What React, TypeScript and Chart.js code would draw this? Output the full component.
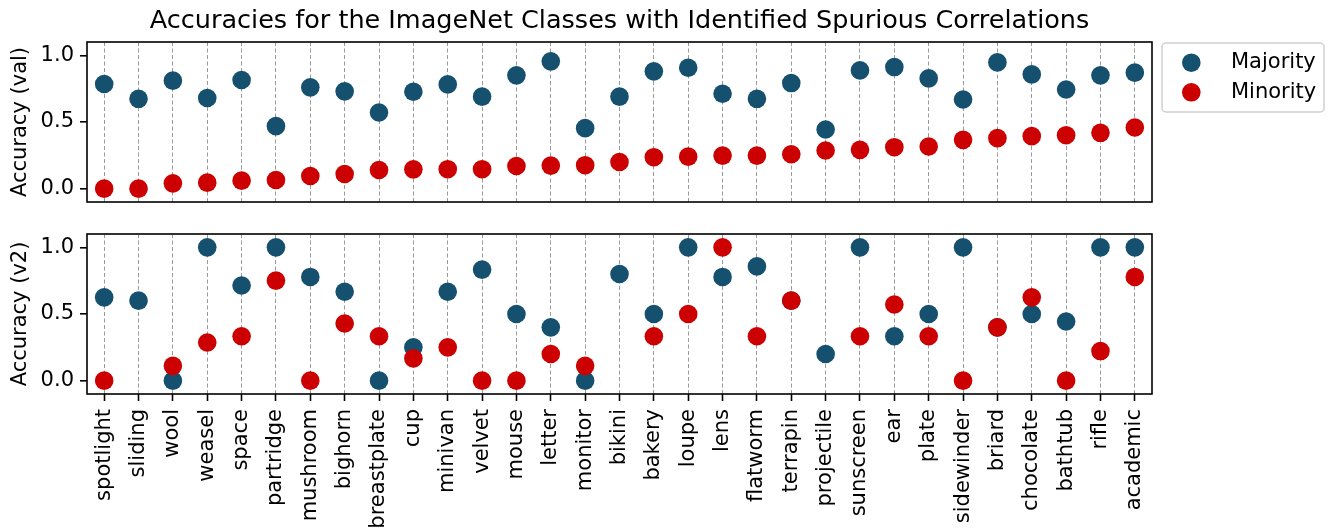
import React, { useEffect, useRef } from "react";
import { Chart, registerables } from "chart.js";

Chart.register(...registerables);

// ---------- data ----------
const categories = [
  "spotlight", "sliding", "wool", "weasel", "space", "partridge", "mushroom",
  "bighorn", "breastplate", "cup", "minivan", "velvet", "mouse", "letter",
  "monitor", "bikini", "bakery", "loupe", "lens", "flatworm", "terrapin",
  "projectile", "sunscreen", "ear", "plate", "sidewinder", "briard",
  "chocolate", "bathtub", "rifle", "academic",
];

const valMajority = [
  0.785, 0.674, 0.81, 0.68, 0.815, 0.469, 0.76, 0.73, 0.571, 0.727, 0.782,
  0.69, 0.85, 0.955, 0.454, 0.69, 0.88, 0.907, 0.712, 0.674, 0.792, 0.444,
  0.887, 0.912, 0.827, 0.669, 0.947, 0.857, 0.744, 0.85, 0.87,
];
const valMinority = [
  0.0, 0.0, 0.04, 0.045, 0.06, 0.065, 0.095, 0.11, 0.14, 0.145, 0.146, 0.146,
  0.17, 0.173, 0.176, 0.2, 0.236, 0.24, 0.248, 0.248, 0.258, 0.286, 0.291,
  0.311, 0.316, 0.366, 0.379, 0.394, 0.401, 0.419, 0.459,
];

const v2Majority = [
  0.625, 0.6, 0.0, 1.0, 0.714, 1.0, 0.778, 0.667, 0.0, 0.25, 0.667, 0.833,
  0.5, 0.4, 0.0, 0.8, 0.5, 1.0, 0.778, 0.857, 0.6, 0.2, 1.0, 0.333, 0.5, 1.0,
  0.4, 0.5, 0.444, 1.0, 1.0,
];
const v2Minority: (number | null)[] = [
  0.0, null, 0.111, 0.286, 0.333, 0.75, 0.0, 0.429, 0.333, 0.167, 0.25, 0.0,
  0.0, 0.2, 0.111, null, 0.333, 0.5, 1.0, 0.333, 0.6, null, 0.333, 0.571,
  0.333, 0.0, 0.4, 0.625, 0.0, 0.222, 0.778,
];

const yTicks = [0, 0.5, 1.0];
const seriesNames = ["Majority", "Minority"];
const seriesColors = ["#16506f", "#cc0000"];
const chartTitle =
  "Accuracies for the ImageNet Classes with Identified Spurious Correlations";
const yLabels = ["Accuracy (val)", "Accuracy (v2)"];

// ---------- styling ----------
const FONT = "'DejaVu Sans', sans-serif";
const W = 1331;
const TOP_H = 215;
const BOT_H = 313;
const PLOT_LEFT = 87;
const PLOT_RIGHT = 1152;
const GRID = "rgba(120,120,120,0.75)";
const R = 9.3;

Chart.defaults.font.family = FONT;
Chart.defaults.color = "#000";

const framePlugin = {
  id: "frame",
  afterDatasetsDraw(chart: any) {
    const { ctx, chartArea: a } = chart;
    ctx.save();
    ctx.strokeStyle = "#000";
    ctx.lineWidth = 1.6;
    ctx.strokeRect(a.left, a.top, a.right - a.left, a.bottom - a.top);
    ctx.restore();
  },
};

const titlePlugin = {
  id: "figTitle",
  afterDraw(chart: any) {
    const { ctx, chartArea: a } = chart;
    ctx.save();
    ctx.fillStyle = "#000";
    ctx.font = `25.5px ${FONT}`;
    ctx.textAlign = "center";
    ctx.textBaseline = "alphabetic";
    ctx.fillText(chartTitle, (a.left + a.right) / 2, 27.5);
    ctx.restore();
  },
};

const legendPlugin = {
  id: "outerLegend",
  afterDraw(chart: any) {
    const { ctx, chartArea: a } = chart;
    const x = a.right + 10;
    const y = a.top + 1;
    const w = 162;
    const h = 69;
    ctx.save();
    ctx.beginPath();
    ctx.roundRect(x, y, w, h, 4);
    ctx.fillStyle = "rgba(255,255,255,0.8)";
    ctx.fill();
    ctx.strokeStyle = "#d0d0d0";
    ctx.lineWidth = 1.5;
    ctx.stroke();
    const ds = chart.data.datasets;
    ds.forEach((d: any, i: number) => {
      const cy = y + 19.7 + i * 29.6;
      ctx.beginPath();
      ctx.arc(x + 29.3, cy, R, 0, Math.PI * 2);
      ctx.fillStyle = d.backgroundColor;
      ctx.fill();
      ctx.fillStyle = "#000";
      ctx.font = `21px ${FONT}`;
      ctx.textAlign = "left";
      ctx.textBaseline = "middle";
      ctx.fillText(d.label, x + 69, cy);
    });
    ctx.restore();
  },
};

function makeDatasets(maj: (number | null)[], min: (number | null)[]) {
  return [maj, min].map((data, i) => ({
    label: seriesNames[i],
    data,
    showLine: false,
    backgroundColor: seriesColors[i],
    borderColor: seriesColors[i],
    pointBackgroundColor: seriesColors[i],
    pointBorderWidth: 0,
    pointRadius: R,
    pointHoverRadius: R,
    order: i === 0 ? 2 : 1,
    clip: false as any,
  }));
}

function yScale(title: string) {
  return {
    min: -0.1,
    max: 1.1,
    afterBuildTicks: (s: any) => {
      s.ticks = yTicks.map((v) => ({ value: v }));
    },
    afterFit: (s: any) => {
      s.width = PLOT_LEFT;
      s.paddingTop = 0;
      s.paddingBottom = 0;
    },
    grid: {
      drawOnChartArea: false,
      drawTicks: true,
      tickLength: 7,
      color: "#000",
      lineWidth: 1.6,
    },
    border: { display: false },
    ticks: {
      padding: 6,
      color: "#000",
      font: { size: 21, family: FONT },
      callback: (v: any) => Number(v).toFixed(1),
    },
    title: {
      display: true,
      text: title,
      color: "#000",
      font: { size: 21, family: FONT },
      padding: { top: 7.5, bottom: 0 },
    },
  };
}

export default function App() {
  const topRef = useRef<HTMLCanvasElement>(null);
  const botRef = useRef<HTMLCanvasElement>(null);

  useEffect(() => {
    const top = new Chart(topRef.current as HTMLCanvasElement, {
      type: "line",
      data: { labels: categories, datasets: makeDatasets(valMajority, valMinority) as any },
      options: {
        animation: false,
        responsive: false,
        events: [],
        layout: { padding: { left: 0, right: W - PLOT_RIGHT, top: 42, bottom: 13 } },
        plugins: { legend: { display: false }, tooltip: { enabled: false }, title: { display: false } },
        scales: {
          x: {
            type: "category",
            offset: true,
            grid: { display: true, offset: false, drawTicks: false, color: GRID, lineWidth: 1 },
            border: { display: false, dash: [4, 2.5] },
            ticks: { display: false },
            afterFit: (s: any) => {
              s.height = 0;
              s.paddingLeft = 0;
              s.paddingRight = 0;
            },
          },
          y: yScale(yLabels[0]) as any,
        },
      },
      plugins: [framePlugin, titlePlugin, legendPlugin],
    });

    const bot = new Chart(botRef.current as HTMLCanvasElement, {
      type: "line",
      data: { labels: categories, datasets: makeDatasets(v2Majority, v2Minority) as any },
      options: {
        animation: false,
        responsive: false,
        events: [],
        layout: { padding: { left: 0, right: W - PLOT_RIGHT, top: 19, bottom: 0 } },
        plugins: { legend: { display: false }, tooltip: { enabled: false }, title: { display: false } },
        scales: {
          x: {
            type: "category",
            offset: true,
            grid: {
              display: true,
              offset: false,
              drawTicks: true,
              tickLength: 7,
              tickColor: "#000",
              tickWidth: 1.6,
              color: GRID,
              lineWidth: 1,
            },
            border: { display: false, dash: [4, 2.5] },
            ticks: {
              autoSkip: false,
              minRotation: 90,
              maxRotation: 90,
              padding: 8,
              color: "#000",
              font: { size: 21, family: FONT },
            },
            afterFit: (s: any) => {
              s.height = BOT_H - 179;
              s.paddingLeft = 0;
              s.paddingRight = 0;
            },
          },
          y: yScale(yLabels[1]) as any,
        },
      },
      plugins: [framePlugin],
    });

    return () => {
      top.destroy();
      bot.destroy();
    };
  }, []);

  return (
    <div style={{ position: "absolute", left: 0, top: 0, width: W, height: TOP_H + BOT_H, background: "#fff" }}>
      <canvas
        ref={topRef}
        width={W}
        height={TOP_H}
        style={{ position: "absolute", left: 0, top: 0, width: W, height: TOP_H }}
      />
      <canvas
        ref={botRef}
        width={W}
        height={BOT_H}
        style={{ position: "absolute", left: 0, top: TOP_H, width: W, height: BOT_H }}
      />
    </div>
  );
}
